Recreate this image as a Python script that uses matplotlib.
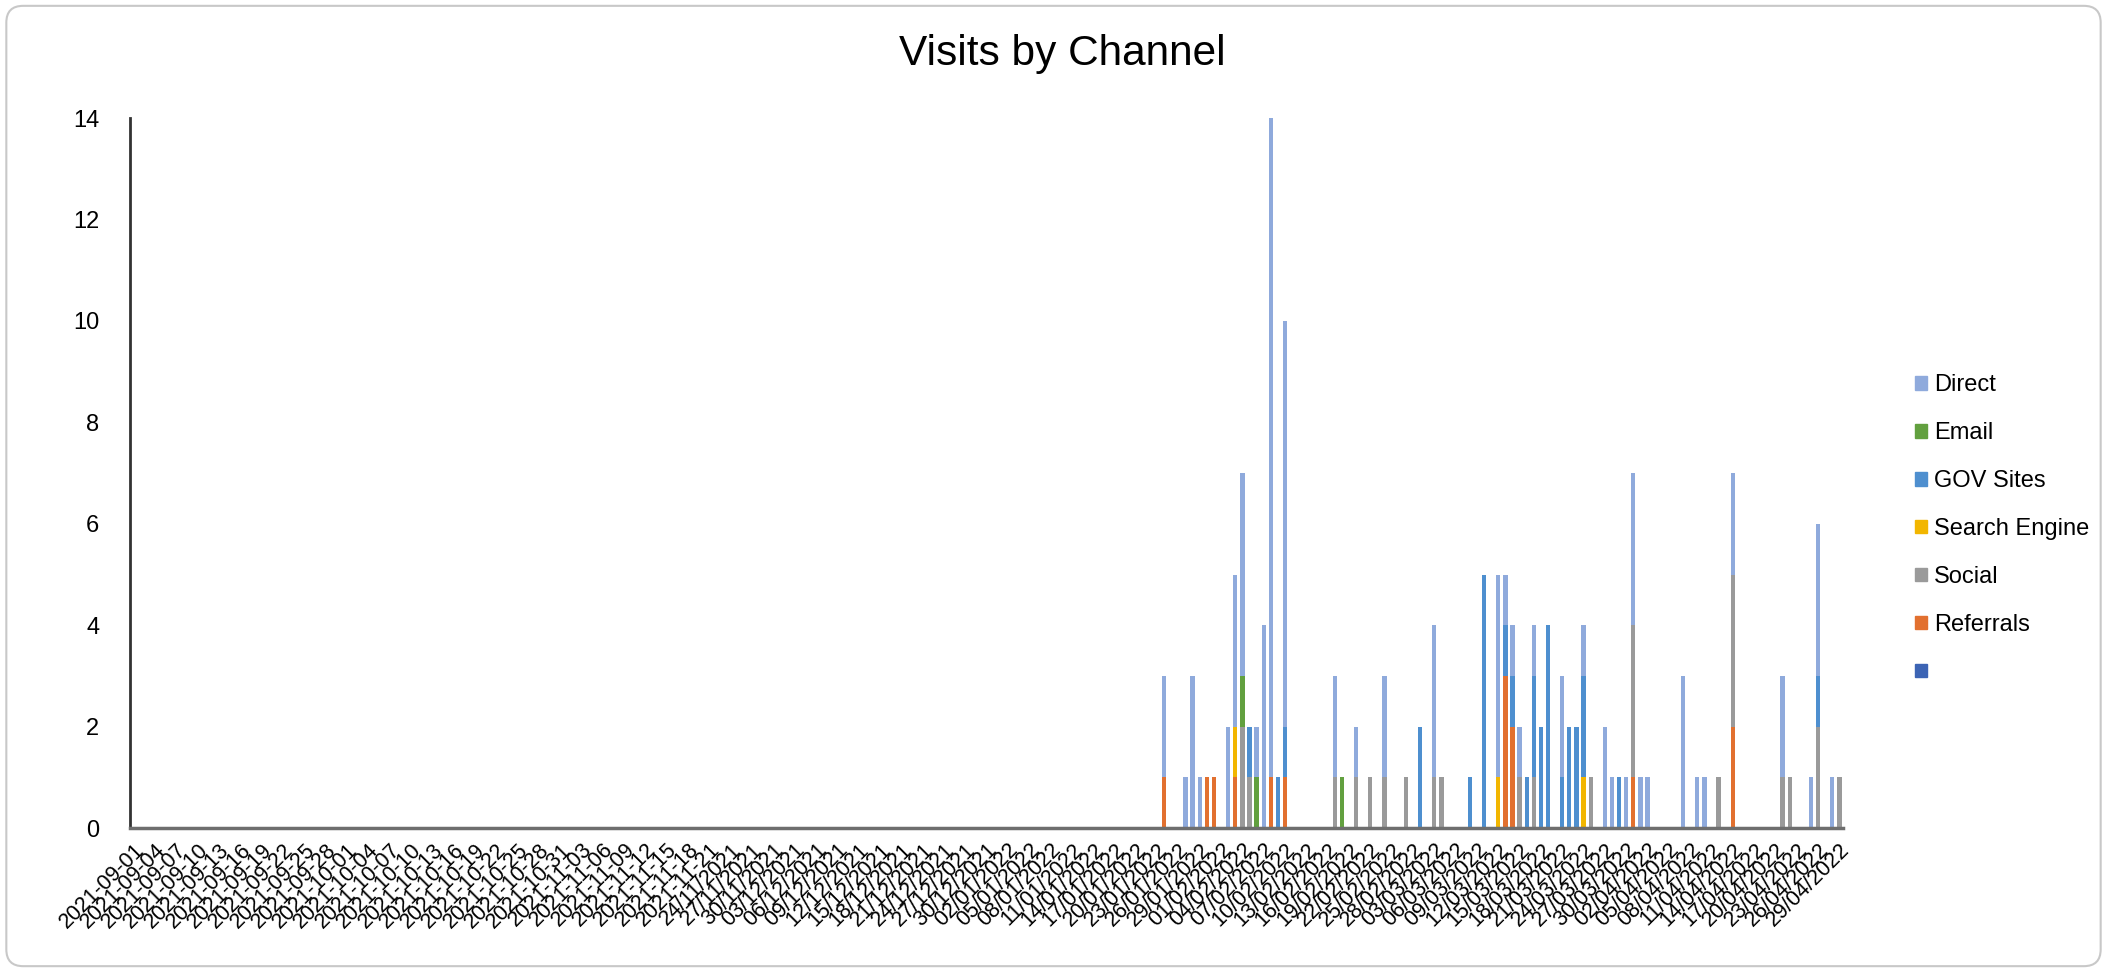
import matplotlib
matplotlib.use("Agg")
import matplotlib.pyplot as plt
from matplotlib.patches import Patch, FancyBboxPatch
import numpy as np
import pandas as pd

plt.rcParams['font.family'] = ['Liberation Sans', 'DejaVu Sans']

# categories: every day from 2021-09-01 to 2022-04-29
all_days = pd.date_range('2021-09-01', '2022-04-29', freq='D')
iso_until = pd.Timestamp('2021-11-21')   # labels switch format after this day

# days with visits and the visits per channel on those days
days = ['2022-01-24', '2022-01-27', '2022-01-28', '2022-01-29', '2022-01-30', '2022-01-31',
        '2022-02-02', '2022-02-03', '2022-02-04', '2022-02-05', '2022-02-06', '2022-02-07',
        '2022-02-08', '2022-02-09', '2022-02-10', '2022-02-17', '2022-02-18', '2022-02-20',
        '2022-02-22', '2022-02-24', '2022-02-27', '2022-03-01', '2022-03-03', '2022-03-04',
        '2022-03-08', '2022-03-10', '2022-03-12', '2022-03-13', '2022-03-14', '2022-03-15',
        '2022-03-16', '2022-03-17', '2022-03-18', '2022-03-19', '2022-03-21', '2022-03-22',
        '2022-03-23', '2022-03-24', '2022-03-25', '2022-03-27', '2022-03-28', '2022-03-29',
        '2022-03-30', '2022-03-31', '2022-04-01', '2022-04-02', '2022-04-07', '2022-04-09',
        '2022-04-10', '2022-04-12', '2022-04-14', '2022-04-21', '2022-04-22', '2022-04-25',
        '2022-04-26', '2022-04-28', '2022-04-29']
referrals = [1, 0, 0, 0, 1, 1, 0, 1, 0, 0, 0, 0, 1, 0, 1, 0, 0, 0, 0, 0, 0, 0, 0, 0, 0, 0, 0, 3, 2,
             0, 0, 0, 0, 0, 0, 0, 0, 0, 0, 0, 0, 0, 0, 1, 0, 0, 0, 0, 0, 0, 2, 0, 0, 0, 0, 0, 0]
social = [0, 0, 0, 0, 0, 0, 0, 0, 2, 1, 0, 0, 0, 0, 0, 1, 0, 1, 1, 1, 1, 0, 1, 1, 0, 0, 0, 0, 0,
          1, 0, 1, 0, 0, 0, 0, 0, 0, 1, 0, 0, 0, 0, 3, 0, 0, 0, 0, 0, 1, 3, 1, 1, 0, 2, 0, 1]
search = [0, 0, 0, 0, 0, 0, 0, 1, 0, 0, 0, 0, 0, 0, 0, 0, 0, 0, 0, 0, 0, 0, 0, 0, 0, 0, 1, 0, 0,
          0, 0, 0, 0, 0, 0, 0, 0, 1, 0, 0, 0, 0, 0, 0, 0, 0, 0, 0, 0, 0, 0, 0, 0, 0, 0, 0, 0]
gov = [0, 0, 0, 0, 0, 0, 0, 0, 0, 1, 0, 0, 0, 1, 1, 0, 0, 0, 0, 0, 0, 2, 0, 0, 1, 5, 0, 1, 1,
       0, 1, 2, 2, 4, 1, 2, 2, 2, 0, 0, 0, 1, 0, 0, 0, 0, 0, 0, 0, 0, 0, 0, 0, 0, 1, 0, 0]
email = [0, 0, 0, 0, 0, 0, 0, 0, 1, 0, 1, 0, 0, 0, 0, 0, 1, 0, 0, 0, 0, 0, 0, 0, 0, 0, 0, 0, 0,
         0, 0, 0, 0, 0, 0, 0, 0, 0, 0, 0, 0, 0, 0, 0, 0, 0, 0, 0, 0, 0, 0, 0, 0, 0, 0, 0, 0]
direct = [2, 1, 3, 1, 0, 0, 2, 3, 4, 0, 1, 4, 13, 0, 8, 2, 0, 1, 0, 2, 0, 0, 3, 0, 0, 0, 4, 1, 1,
          1, 0, 1, 0, 0, 2, 0, 0, 1, 0, 2, 1, 0, 1, 3, 1, 1, 3, 1, 1, 0, 2, 2, 0, 1, 3, 1, 0]
blank = [0] * len(days)

# stack order bottom -> top (legend shows it top -> bottom)
series = [('', blank, '#3C64B4'),
          ('Referrals', referrals, '#E2702F'),
          ('Social', social, '#9A9A9A'),
          ('Search Engine', search, '#F2B600'),
          ('GOV Sites', gov, '#4E8FCF'),
          ('Email', email, '#62A03F'),
          ('Direct', direct, '#8FAADC')]

df = pd.DataFrame({name: vals for name, vals, c in series}, index=pd.to_datetime(days))
df = df.reindex(all_days, fill_value=0)

labels = [d.strftime('%Y-%m-%d') if d <= iso_until else d.strftime('%d/%m/%Y') for d in all_days]

fig = plt.figure(figsize=(21.07, 9.72), dpi=100)
ax = fig.add_axes([0.0617, 0.148, 0.813, 0.7306])

x = np.arange(len(all_days))
bottom = np.zeros(len(all_days))
for name, vals, c in series:
    v = df[name].values
    ax.bar(x, v, bottom=bottom, width=0.6, color=c, linewidth=0)
    bottom += v

ax.set_xlim(-0.5, len(all_days) - 0.5)
ax.set_ylim(0, 14)
ax.set_yticks(range(0, 15, 2))
ax.set_xticks(x[::3])
ax.set_xticklabels(labels[::3], rotation=45, ha='right', rotation_mode='anchor', fontsize=15.5)
ax.tick_params(axis='x', length=0, pad=8)
ax.tick_params(axis='y', length=0, pad=22, labelsize=17)

for s in ['top', 'right']:
    ax.spines[s].set_visible(False)
ax.spines['left'].set_color('#333333')
ax.spines['left'].set_linewidth(2)
ax.spines['bottom'].set_color('#6E6E6E')
ax.spines['bottom'].set_linewidth(2.5)

fig.text(0.504, 0.944, 'Visits by Channel', ha='center', va='center', fontsize=30.5)

# legend, top series first, including the unnamed one
handles = [Patch(color=c) for name, vals, c in series[::-1]]
names = [name for name, vals, c in series[::-1]]
fig.legend(handles, names, loc='upper left', bbox_to_anchor=(0.909, 0.615),
           frameon=False, fontsize=17, handlelength=0.5, handleheight=0.5,
           handletextpad=0.3, labelspacing=1.1, borderpad=0, borderaxespad=0)

# rounded outer frame
frame = FancyBboxPatch((0.003, 0.006), 0.994, 0.988, transform=fig.transFigure,
                       boxstyle='round,pad=0,rounding_size=0.008', mutation_aspect=2107 / 972,
                       fc='none', ec='#C8C8C8', lw=1.5)
fig.patches.append(frame)

fig.savefig('out.png', dpi=100)
